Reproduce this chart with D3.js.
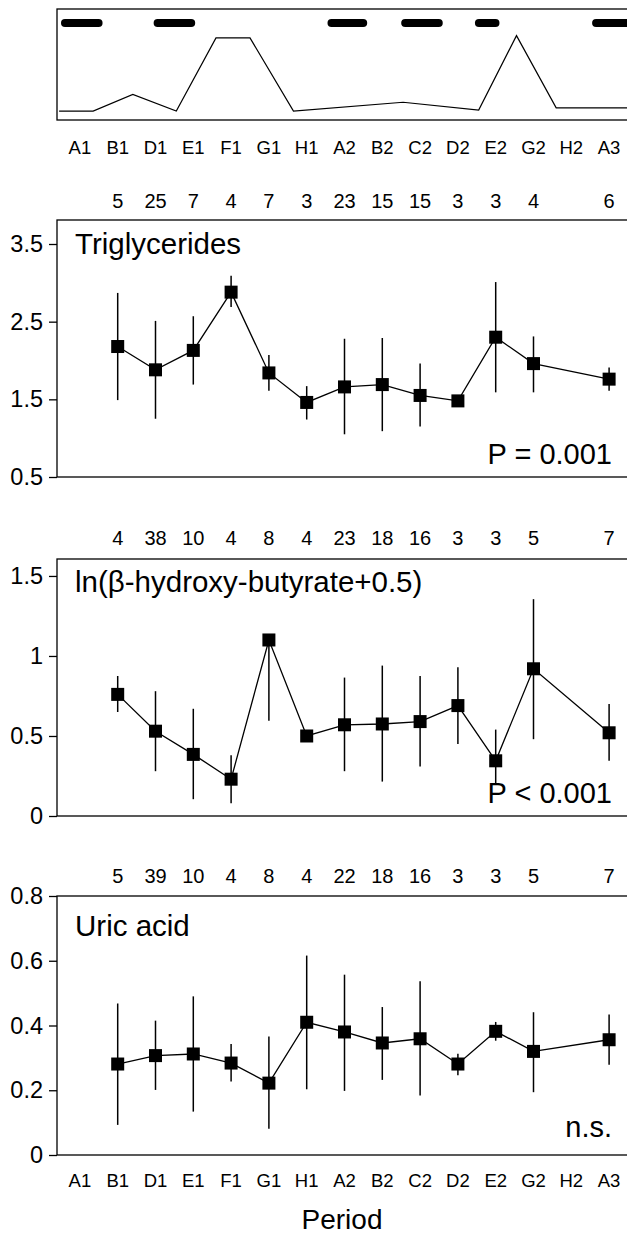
<!DOCTYPE html>
<html><head><meta charset="utf-8">
<script src="https://cdn.jsdelivr.net/npm/d3@7"></script>
<style>body{margin:0;background:#fff}svg{display:block}text{font-family:"Liberation Sans",Arial,Helvetica,sans-serif;fill:#000}</style>
</head><body>
<svg id="c" width="627" height="1238"></svg>
<script>
// ---- data ----
const periods = ["A1","B1","D1","E1","F1","G1","H1","A2","B2","C2","D2","E2","G2","H2","A3"];
const measured = ["B1","D1","E1","F1","G1","H1","A2","B2","C2","D2","E2","G2","A3"];

// top strip: trace position (period units from left edge of A1) and relative level
const traceX = [-0.05, 0.85, 1.9, 3.05, 4.1, 5.0, 6.15, 9.05, 11.05, 12.05, 13.1, 15.3];
const traceLevel = [0.08, 0.08, 0.23, 0.08, 0.74, 0.74, 0.08, 0.16, 0.09, 0.76, 0.11, 0.11];
// dark bars (period units)
const barStart = [0.0, 2.45, 7.05, 9.0, 10.95, 14.05];
const barEnd   = [1.1, 3.55, 8.1, 10.1, 11.6, 15.4];

// Triglycerides
const tgN     = [5, 25, 7, 4, 7, 3, 23, 15, 15, 3, 3, 4, 6];
const tgMean  = [2.18, 1.88, 2.13, 2.88, 1.84, 1.46, 1.66, 1.69, 1.55, 1.48, 2.30, 1.96, 1.76];
const tgUpper = [2.87, 2.51, 2.57, 3.09, 2.07, 1.67, 2.28, 2.29, 1.96, 1.51, 3.01, 2.31, 1.91];
const tgLower = [1.49, 1.25, 1.69, 2.69, 1.61, 1.24, 1.05, 1.09, 1.15, 1.45, 1.59, 1.59, 1.61];
const tgTicks = [0.5, 1.5, 2.5, 3.5];

// ln(beta-hydroxy-butyrate + 0.5)
const bhbN     = [4, 38, 10, 4, 8, 4, 23, 18, 16, 3, 3, 5, 7];
const bhbMean  = [0.76, 0.53, 0.385, 0.23, 1.10, 0.50, 0.57, 0.575, 0.59, 0.69, 0.345, 0.92, 0.52];
const bhbUpper = [0.875, 0.78, 0.67, 0.38, 1.12, 0.52, 0.865, 0.94, 0.875, 0.93, 0.54, 1.355, 0.70];
const bhbLower = [0.65, 0.28, 0.105, 0.08, 0.595, 0.48, 0.28, 0.215, 0.31, 0.45, 0.20, 0.48, 0.345];
const bhbTicks = [0, 0.5, 1, 1.5];

// Uric acid
const uaN     = [5, 39, 10, 4, 8, 4, 22, 18, 16, 3, 3, 5, 7];
const uaMean  = [0.281, 0.307, 0.312, 0.284, 0.222, 0.410, 0.380, 0.346, 0.359, 0.281, 0.382, 0.320, 0.356];
const uaUpper = [0.468, 0.415, 0.490, 0.343, 0.366, 0.616, 0.557, 0.457, 0.537, 0.313, 0.411, 0.441, 0.434];
const uaLower = [0.093, 0.201, 0.134, 0.227, 0.081, 0.203, 0.198, 0.232, 0.184, 0.246, 0.353, 0.194, 0.279];
const uaTicks = [0, 0.2, 0.4, 0.6, 0.8];

// ---- drawing ----
const svg = d3.select("#c");
const F = {tick: 23.5, name: 29.5, p: 29, n: 20, cat: 18.5, title: 28};
const frameL = 57, frameR = 700;

const x = d3.scalePoint().domain(periods).range([61, 628]).padding(0.5);
const xu = d3.scaleLinear().domain([0, 15]).range([61, 628]);

// top strip
{
  const top = 9, bot = 120;
  const yl = d3.scaleLinear().domain([0, 1]).range([bot, top]);
  svg.append("rect").attr("x", frameL).attr("y", top).attr("width", frameR - frameL).attr("height", bot - top)
    .attr("fill", "none").attr("stroke", "#000").attr("stroke-width", 1.3);
  const dashY = top + 14;
  svg.append("g").selectAll("line").data(barStart.map((s, i) => [s, barEnd[i]])).join("line")
    .attr("x1", d => xu(d[0]) + 4).attr("x2", d => xu(d[1]) - 4)
    .attr("y1", dashY).attr("y2", dashY)
    .attr("stroke", "#000").attr("stroke-width", 8).attr("stroke-linecap", "round");
  const pts = traceX.map((t, i) => [t, traceLevel[i]]);
  svg.append("path").datum(pts)
    .attr("d", d3.line().x(d => xu(d[0])).y(d => yl(d[1])))
    .attr("fill", "none").attr("stroke", "#000").attr("stroke-width", 1.2);
  svg.append("g").selectAll("text").data(periods).join("text")
    .attr("x", d => x(d)).attr("y", 154).attr("text-anchor", "middle")
    .style("font-size", F.cat + "px").text(d => d);
}

const panels = [
  {top: 220, bot: 477, dom: [0.5, 3.809], ticks: tgTicks, n: tgN, mean: tgMean, up: tgUpper, lo: tgLower,
   name: "Triglycerides", nameY: 254, p: "P = 0.001", pY: 464, nY: 208},
  {top: 559, bot: 816, dom: [0, 1.606], ticks: bhbTicks, n: bhbN, mean: bhbMean, up: bhbUpper, lo: bhbLower,
   name: "ln(β-hydroxy-butyrate+0.5)", nameY: 592, p: "P < 0.001", pY: 803, nY: 545},
  {top: 896, bot: 1155, dom: [0, 0.8], ticks: uaTicks, n: uaN, mean: uaMean, up: uaUpper, lo: uaLower,
   name: "Uric acid", nameY: 936, p: "n.s.", pY: 1137, nY: 883}
];

panels.forEach(P => {
  const g = svg.append("g");
  const y = d3.scaleLinear().domain(P.dom).range([P.bot, P.top]);
  g.append("rect").attr("x", frameL).attr("y", P.top).attr("width", frameR - frameL).attr("height", P.bot - P.top)
    .attr("fill", "none").attr("stroke", "#000").attr("stroke-width", 1.3);
  const ax = g.append("g").attr("transform", `translate(${frameL},0)`)
    .call(d3.axisLeft(y).tickValues(P.ticks).tickSize(8).tickPadding(6).tickFormat(d => String(d)));
  ax.select(".domain").remove();
  ax.selectAll(".tick line").attr("stroke", "#000").attr("stroke-width", 1.3);
  ax.selectAll(".tick text").style("font-size", F.tick + "px").attr("font-family", null).attr("fill", "#000");

  // counts
  g.append("g").selectAll("text").data(measured).join("text")
    .attr("x", d => x(d)).attr("y", P.nY).attr("text-anchor", "middle")
    .style("font-size", F.n + "px").text((d, i) => P.n[i]);

  // name & p
  g.append("text").attr("x", 75).attr("y", P.nameY).style("font-size", F.name + "px").text(P.name);
  g.append("text").attr("x", 612).attr("y", P.pY).attr("text-anchor", "end").style("font-size", F.p + "px").text(P.p);

  // error bars
  g.append("g").selectAll("line").data(measured).join("line")
    .attr("x1", d => x(d)).attr("x2", d => x(d))
    .attr("y1", (d, i) => y(P.up[i])).attr("y2", (d, i) => y(P.lo[i]))
    .attr("stroke", "#000").attr("stroke-width", 1.5);
  // connecting line
  g.append("path").datum(measured.map((d, i) => [d, P.mean[i]]))
    .attr("d", d3.line().x(d => x(d[0])).y(d => y(d[1])))
    .attr("fill", "none").attr("stroke", "#000").attr("stroke-width", 1.3);
  // markers
  const s = 13;
  g.append("g").selectAll("rect").data(measured).join("rect")
    .attr("x", d => x(d) - s / 2).attr("y", (d, i) => y(P.mean[i]) - s / 2)
    .attr("width", s).attr("height", s).attr("fill", "#000");
});

// bottom labels
svg.append("g").selectAll("text").data(periods).join("text")
  .attr("x", d => x(d)).attr("y", 1187).attr("text-anchor", "middle")
  .style("font-size", F.cat + "px").text(d => d);
svg.append("text").attr("x", 342).attr("y", 1229).attr("text-anchor", "middle")
  .style("font-size", F.title + "px").text("Period");
</script>
</body></html>
